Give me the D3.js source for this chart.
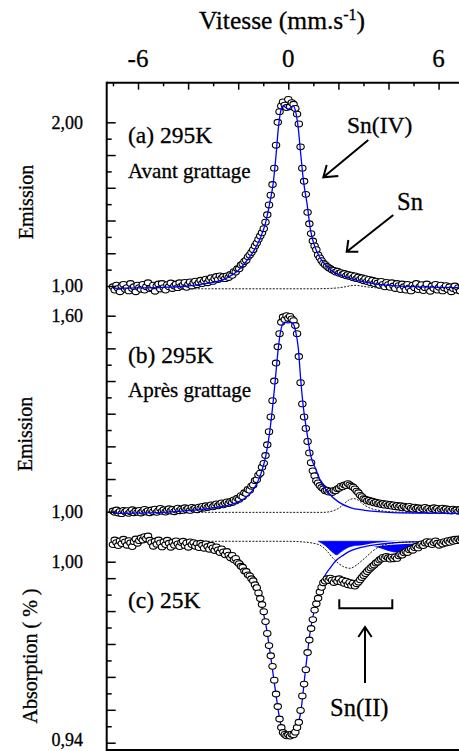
<!DOCTYPE html>
<html><head><meta charset="utf-8">
<script src="https://cdn.jsdelivr.net/npm/d3@7"></script>
<style>
body{margin:0;background:#fff}
svg{display:block}
text{font-family:"Liberation Serif","Times New Roman",serif;fill:#000;stroke:#000;stroke-width:0.3px}
</style>
</head><body>
<svg id="chart" width="459" height="751"></svg>
<script>
// channel velocity calibration (mm/s): v = V0 + i*DV
const V0 = -7.0, DV = 0.07;

// (a) 295K, avant grattage — emission counts (normalised)
const aData = [
0.995,0.975,1.005,0.985,0.965,1.000,1.010,0.980,0.990,0.970,
1.015,0.985,0.995,0.965,1.005,0.990,0.980,1.010,0.975,0.995,
1.020,0.985,0.990,1.005,0.968,1.000,1.012,0.982,1.015,0.990,
0.975,1.008,0.995,1.018,0.985,1.000,1.012,0.990,1.020,0.998,
1.005,1.022,0.992,1.010,1.025,1.000,1.018,1.030,1.008,1.020,
1.035,1.015,1.030,1.042,1.020,1.038,1.050,1.028,1.045,1.058,
1.040,1.062,1.048,1.058,1.045,1.062,1.052,1.070,1.065,1.088,
1.085,1.105,1.105,1.128,1.135,1.150,1.158,1.178,1.190,1.205,
1.222,1.245,1.262,1.285,1.305,1.325,1.350,1.390,1.435,1.495,
1.555,1.620,1.720,1.860,2.000,2.065,2.100,2.125,2.105,2.090,
2.140,2.095,2.120,2.110,2.085,2.050,1.990,1.850,1.720,1.640,
1.560,1.450,1.380,1.320,1.275,1.245,1.222,1.190,1.172,1.155,
1.140,1.130,1.120,1.112,1.105,1.098,1.095,1.085,1.090,1.078,
1.082,1.070,1.076,1.062,1.070,1.058,1.066,1.050,1.062,1.045,
1.055,1.040,1.050,1.032,1.045,1.028,1.040,1.020,1.035,1.015,
1.030,1.018,1.005,1.028,1.010,0.995,1.022,1.008,0.992,1.020,
1.000,0.985,1.015,1.002,0.978,1.012,0.995,0.975,1.010,0.988,
0.970,1.005,0.990,1.015,0.978,0.995,1.008,0.972,0.990,1.012,
0.982,0.968,1.000,0.985,1.010,0.975,0.992,1.005,0.970,0.988,
1.002,0.978,0.995,0.965,0.985,1.000,0.975,0.990,0.970,0.995,
0.980];
const aFitV = [-7,-6,-5,-4,-3.5,-3,-2.5,-2,-1.6,-1.3,-1.1,-0.9,-0.75,-0.6,-0.5,-0.4,-0.3,-0.2,-0.1,0,0.1,0.2,0.3,0.4,0.5,0.6,0.75,0.9,1.1,1.3,1.6,2.0,2.5,3.0,3.5,4.0,5.0,6.0,7.0];
const aFitY = [0.986,0.988,0.992,1.000,1.010,1.022,1.045,1.095,1.165,1.235,1.300,1.390,1.500,1.630,1.780,1.960,2.070,2.100,2.090,2.080,2.090,2.100,2.060,1.960,1.800,1.650,1.500,1.330,1.225,1.165,1.110,1.070,1.045,1.025,1.012,1.004,0.996,0.992,0.990];
const aDotV = [-7,1.0,1.6,2.0,2.3,2.5,2.7,2.9,3.2,3.6,4.2,5,7];
const aDotY = [0.983,0.983,0.985,0.989,0.996,1.002,1.004,1.000,0.993,0.988,0.985,0.984,0.983];

// (b) 295K, après grattage
const bData = [
1.002,0.998,1.005,0.996,1.001,0.994,1.004,0.999,1.003,0.995,
1.000,1.006,0.997,1.002,0.998,1.004,0.996,1.001,1.007,0.999,
1.003,0.997,1.005,1.000,1.008,0.998,1.004,1.010,1.001,1.006,
0.999,1.004,1.009,1.002,1.007,1.000,1.005,1.011,1.003,1.008,
1.004,1.012,1.006,1.010,1.004,1.013,1.008,1.011,1.006,1.014,
1.010,1.016,1.011,1.018,1.013,1.017,1.021,1.015,1.020,1.024,
1.018,1.023,1.027,1.021,1.026,1.030,1.025,1.031,1.028,1.036,
1.033,1.041,1.038,1.049,1.046,1.058,1.056,1.068,1.066,1.078,
1.082,1.095,1.098,1.112,1.118,1.136,1.148,1.172,1.205,1.245,
1.290,1.340,1.400,1.455,1.505,1.545,1.580,1.596,1.588,1.600,
1.592,1.598,1.590,1.585,1.570,1.545,1.475,1.395,1.330,1.290,
1.255,1.215,1.180,1.150,1.125,1.110,1.095,1.088,1.080,1.074,
1.070,1.064,1.066,1.060,1.063,1.059,1.065,1.064,1.070,1.072,
1.078,1.076,1.082,1.080,1.086,1.082,1.078,1.075,1.070,1.063,
1.058,1.050,1.046,1.040,1.038,1.033,1.035,1.030,1.032,1.027,
1.029,1.024,1.027,1.022,1.025,1.020,1.024,1.019,1.022,1.017,
1.021,1.015,1.019,1.014,1.018,1.012,1.017,1.013,1.010,1.016,
1.011,1.008,1.014,1.009,1.012,1.006,1.011,1.008,1.013,1.007,
1.010,1.004,1.009,1.012,1.006,1.010,1.004,1.008,1.011,1.005,
1.009,1.003,1.007,1.002,1.008,1.004,1.006,1.001,1.007,1.003,
1.005];
const bFitV = [-7,-5,-4,-3,-2.5,-2,-1.6,-1.3,-1.1,-0.9,-0.75,-0.6,-0.5,-0.4,-0.3,-0.2,-0.1,0,0.1,0.2,0.3,0.4,0.5,0.6,0.75,0.9,1.1,1.3,1.6,2.0,2.5,3.0,4.0,5.0,7.0];
const bFitY = [0.995,0.998,1.003,1.012,1.018,1.030,1.050,1.080,1.115,1.170,1.240,1.340,1.420,1.500,1.555,1.577,1.580,1.578,1.580,1.575,1.550,1.500,1.400,1.320,1.240,1.170,1.130,1.092,1.058,1.030,1.012,1.005,0.998,0.996,0.995];
const bDotV = [-7,1.4,1.8,2.0,2.2,2.4,2.6,2.8,3.0,3.3,3.7,4.3,5,7];
const bDotY = [0.998,0.998,1.003,1.010,1.022,1.035,1.040,1.035,1.022,1.010,1.003,0.999,0.998,0.998];

// (c) 25K — absorption
const cData = [
1.0052,1.0066,1.0058,1.0049,1.0063,1.0055,1.0068,1.0060,1.0050,1.0064,
1.0057,1.0046,1.0061,1.0069,1.0056,1.0064,1.0072,1.0066,1.0076,1.0070,
1.0078,1.0065,1.0058,1.0047,1.0062,1.0053,1.0066,1.0057,1.0045,1.0060,
1.0052,1.0065,1.0056,1.0044,1.0059,1.0050,1.0063,1.0054,1.0046,1.0058,
1.0062,1.0049,1.0057,1.0044,1.0060,1.0052,1.0058,1.0047,1.0055,1.0043,
1.0056,1.0050,1.0041,1.0054,1.0046,1.0038,1.0050,1.0042,1.0034,1.0045,
1.0036,1.0028,1.0039,1.0030,1.0021,1.0031,1.0020,1.0012,1.0019,1.0006,
1.0010,0.9998,0.9994,0.9986,0.9983,0.9972,0.9970,0.9960,0.9957,0.9948,
0.9942,0.9930,0.9921,0.9905,0.9888,0.9870,0.9848,0.9818,0.9782,0.9745,
0.9714,0.9682,0.9640,0.9598,0.9560,0.9522,0.9496,0.9481,0.9475,0.9471,
0.9474,0.9470,0.9476,0.9474,0.9482,0.9496,0.9512,0.9548,0.9592,0.9628,
0.9672,0.9724,0.9762,0.9797,0.9824,0.9853,0.9872,0.9889,0.9908,0.9922,
0.9936,0.9941,0.9948,0.9943,0.9950,0.9944,0.9937,0.9946,0.9940,0.9948,
0.9938,0.9944,0.9934,0.9941,0.9930,0.9937,0.9928,0.9935,0.9926,0.9933,
0.9938,0.9945,0.9952,0.9958,0.9964,0.9970,0.9976,0.9981,0.9986,0.9990,
0.9996,0.9999,1.0005,1.0008,1.0013,1.0010,1.0016,1.0012,1.0008,1.0014,
1.0009,1.0015,1.0010,1.0018,1.0022,1.0020,1.0027,1.0031,1.0028,1.0036,
1.0039,1.0035,1.0043,1.0047,1.0042,1.0050,1.0054,1.0049,1.0057,1.0061,
1.0055,1.0060,1.0052,1.0058,1.0063,1.0056,1.0050,1.0058,1.0054,1.0061,
1.0057,1.0064,1.0059,1.0066,1.0062,1.0068,1.0064,1.0069,1.0065,1.0070,
1.0066];
const cFitV = [-7,-4.86,-4,-3.53,-3.13,-2.73,-2.46,-2.2,-1.93,-1.66,-1.45,-1.27,-1.1,-0.9,-0.7,-0.5,-0.35,-0.2,0,0.2,0.35,0.5,0.7,0.9,1.1,1.27,1.45,1.66,1.93,2.2,2.46,2.73,3.13,3.53,4.0,4.86,7];
const cFitY = [1.0062,1.0060,1.0056,1.0052,1.0047,1.0040,1.0032,1.0020,1.0005,0.9980,0.9955,0.9915,0.9875,0.9810,0.9710,0.9600,0.9525,0.9482,0.9472,0.9478,0.9495,0.9545,0.9680,0.9800,0.9870,0.9910,0.9955,0.9980,1.0005,1.0020,1.0032,1.0040,1.0047,1.0052,1.0056,1.0060,1.0062];
const cDotV = [-7,0,0.6,1.0,1.27,1.55,1.79,2.0,2.2,2.46,2.73,2.95,3.13,3.33,3.53,3.93,4.5,7];
const cDotY = [1.0062,1.0062,1.0060,1.0056,1.0050,1.0032,1.0010,0.9995,0.9985,0.9980,0.9990,1.0004,1.0016,1.0030,1.0041,1.0053,1.0059,1.0062];
const cSn2V = [1.2,1.5,1.75,1.93,2.1,2.4,2.8,3.2,3.6,3.95,4.33,4.6,5.0,5.4];
const cSn2Y = [1.0062,1.0048,1.0030,1.0021,1.0030,1.0044,1.0050,1.0049,1.0044,1.0035,1.0029,1.0038,1.0052,1.0062];
const cBase = 1.0062;

// ticks
const xTicks = [-7,-6,-5,-4,-3,-2,-1,0,1,2,3,4,5,6,7];
const xLabels = [-6,0,6];
const aTicks = [1.0,1.1,1.2,1.3,1.4,1.5,1.6,1.7,1.8,1.9,2.0];
const aMajor = [1.0,1.2,1.4,1.6,1.8,2.0];
const aLabels = [[1.0,"1,00"],[2.0,"2,00"]];
const bTicks = [1.00,1.05,1.10,1.15,1.20,1.25,1.30,1.35,1.40,1.45,1.50,1.55,1.60];
const bMajor = [1.00,1.10,1.20,1.30,1.40,1.50,1.60];
const bLabels = [[1.0,"1,00"],[1.6,"1,60"]];
const cTicks = [0.945,0.950,0.955,0.960,0.965,0.970,0.975,0.980,0.985,0.990,0.995,1.000];
const cMajor = [0.945,0.955,0.965,0.975,0.985,0.995,1.000];
const cLabels = [[1.0,"1,00"],[0.945,"0,94"]];

const svg = d3.select("#chart");
const W = 459;
const x = d3.scaleLinear().domain([-7.25,7.25]).range([106.7,469.9]);
const ya = d3.scaleLinear().domain([1,2]).range([286,122.3]);
const yb = d3.scaleLinear().domain([1,1.6]).range([511.7,315.7]);
const yc = d3.scaleLinear().domain([0.945,1.0]).range([742.7,561.7]);
const BLUE = "#0000ff";

const zip = (vs, ys) => vs.map((v,i)=>[v, ys[i]]);
const lineFor = y => d3.line().x(d=>x(d[0])).y(d=>y(d[1])).curve(d3.curveMonotoneX);

function drawFit(g, y, v, vals, halo){
  if(halo) g.append("path").datum(zip(v,vals)).attr("d", lineFor(y))
    .attr("fill","none").attr("stroke","#fff").attr("stroke-width",3.5);
  g.append("path").datum(zip(v,vals)).attr("d", lineFor(y))
    .attr("fill","none").attr("stroke",BLUE).attr("stroke-width",1.3);
}
function drawDot(g, y, v, vals){
  g.append("path").datum(zip(v,vals)).attr("d", lineFor(y))
    .attr("fill","none").attr("stroke","#000").attr("stroke-width",0.9)
    .attr("stroke-dasharray","2,1.4");
}
function drawData(g, y, data){
  g.append("g").selectAll("ellipse").data(data).join("ellipse")
    .attr("cx",(d,i)=>x(V0+i*DV)).attr("cy",d=>y(d))
    .attr("rx",3.7).attr("ry",2.9)
    .attr("fill","#fff").attr("stroke","#000").attr("stroke-width",1.1);
}

const plot = svg.append("g");
// panel (a)
const ga = plot.append("g");
drawDot(ga, ya, aDotV, aDotY);
drawData(ga, ya, aData);
drawFit(ga, ya, aFitV, aFitY, false);
// panel (b)
const gb = plot.append("g");
drawDot(gb, yb, bDotV, bDotY);
drawData(gb, yb, bData);
drawFit(gb, yb, bFitV, bFitY, false);
// panel (c)
const gc = plot.append("g");
gc.append("path").datum(zip(cSn2V,cSn2Y))
  .attr("d", d3.area().x(d=>x(d[0])).y0(yc(cBase)).y1(d=>yc(d[1])).curve(d3.curveMonotoneX))
  .attr("fill",BLUE).attr("stroke",BLUE).attr("stroke-width",0.8);
drawFit(gc, yc, cFitV, cFitY, true);
drawDot(gc, yc, cDotV, cDotY);
drawData(gc, yc, cData);

// axes
const axG = svg.append("g");
// top axis
const topAx = axG.append("g").attr("transform","translate(0,82.7)")
  .call(d3.axisBottom(x).tickValues(xTicks).tickFormat("").tickSizeOuter(0));
topAx.select(".domain").remove();
topAx.selectAll(".tick line").attr("y2", d => (d%2===0)?7:3.6).attr("stroke-width",1.5);
axG.append("line").attr("x1",106.7).attr("x2",W).attr("y1",82.7).attr("y2",82.7)
  .attr("stroke","#000").attr("stroke-width",2);
axG.selectAll("text.xl").data(xLabels).join("text").attr("class","xl")
  .attr("x",d=>x(d)).attr("y",67).attr("text-anchor","middle")
  .style("font-size","25px").text(d=>String(d));
// left axis line and bottom line
axG.append("line").attr("x1",106.7).attr("x2",106.7).attr("y1",81.7).attr("y2",751)
  .attr("stroke","#000").attr("stroke-width",2);
axG.append("line").attr("x1",106.7).attr("x2",W).attr("y1",750).attr("y2",750)
  .attr("stroke","#000").attr("stroke-width",2);

function yAxis(y, ticks, major, labels){
  const g = axG.append("g").attr("transform","translate(106.7,0)")
    .call(d3.axisRight(y).tickValues(ticks).tickFormat("").tickSizeOuter(0));
  g.select(".domain").remove();
  g.selectAll(".tick line")
    .attr("x2", d => major.some(m=>Math.abs(m-d)<1e-9) ? 9 : 5)
    .attr("stroke-width",1.5);
  axG.append("g").selectAll("text").data(labels).join("text")
    .attr("x",83).attr("y",d=>Math.min(y(d[0]), 740)).attr("dy","0.35em")
    .attr("text-anchor","end").style("font-size","18px").text(d=>d[1]);
}
yAxis(ya, aTicks, aMajor, aLabels);
yAxis(yb, bTicks, bMajor, bLabels);
yAxis(yc, cTicks, cMajor, cLabels);

// axis titles
const title = svg.append("text").attr("x",282).attr("y",29).attr("text-anchor","middle")
  .style("font-size","25.5px");
title.append("tspan").text("Vitesse (mm.s");
title.append("tspan").attr("dy",-9).style("font-size","16px").text("-1");
title.append("tspan").attr("dy",9).text(")");

function vTitle(cx, cy, txt){
  svg.append("text").attr("transform",`translate(${cx},${cy}) rotate(-90)`)
    .attr("text-anchor","middle").attr("dominant-baseline","central")
    .style("font-size","20px").text(txt);
}
vTitle(26,202,"Emission");
vTitle(25,434,"Emission");
vTitle(30,656,"Absorption ( % )");

// annotations
function label(xp, yp, txt, size){
  svg.append("text").attr("x",xp).attr("y",yp).style("font-size",size+"px").text(txt);
}
label(128,143,"(a) 295K",23.5);
label(128,178,"Avant grattage",21);
label(128,363,"(b) 295K",23.5);
label(128,397,"Après grattage",21);
label(128,608,"(c) 25K",23.5);
label(347,133,"Sn(IV)",23.5);
label(397,210,"Sn",24.5);
label(330,716,"Sn(II)",24.5);

const ann = svg.append("g").attr("fill","none").attr("stroke","#000").attr("stroke-width",2);
ann.append("path").attr("d","M368.3,140 L323.3,177.3 M326.7,165 L323.3,177.3 L338.3,176");
ann.append("path").attr("d","M393.3,215 L346.7,251.7 M348.3,240 L346.7,251.7 L358.3,251.7");
ann.append("path").attr("d","M365,683 L365,627 M358.3,637 L365,627 L371.7,637");
ann.append("path").attr("d","M339.3,599.3 L339.3,608.3 L392.3,608.3 L392.3,599.3");
</script>
</body></html>
